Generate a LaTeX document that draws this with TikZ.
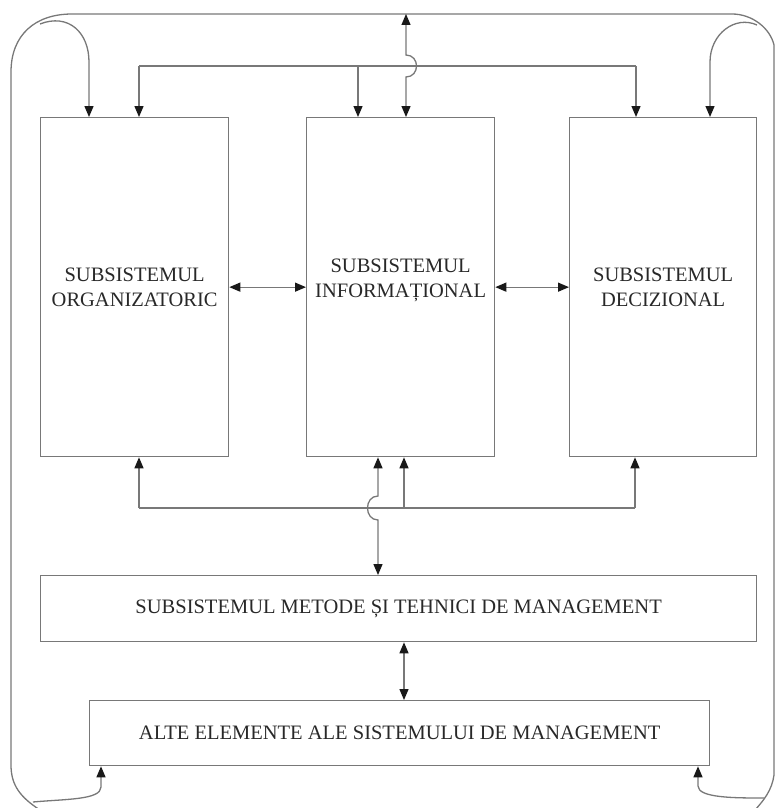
\documentclass[tikz,border=0pt]{standalone}
\usepackage{fontspec}
\setmainfont{Liberation Serif}
\usetikzlibrary{arrows.meta,calc}
\definecolor{ln}{RGB}{120,120,120}
\definecolor{tip}{RGB}{25,25,25}
\definecolor{txt}{RGB}{40,40,40}
\begin{document}
\begin{tikzpicture}[x=1pt,y=-1pt,
  line/.style={draw=ln, line width=1.3pt},
  arr/.style={line, -{Triangle[width=9pt,length=11pt,color=tip]}},
  arr2/.style={line, {Triangle[width=9pt,length=11pt,color=tip]}-{Triangle[width=9pt,length=11pt,color=tip]}},
  lbl/.style={align=center, inner sep=0pt, font=\fontsize{20.5}{25}\selectfont, text=txt},
  box/.style={lbl, draw=ln, line width=1.3pt, anchor=north west}]
\useasboundingbox (0,0) rectangle (774,808);
% boxes
\node[box, minimum width=188pt, minimum height=339pt] (o) at (40,117) {SUBSISTEMUL\\ORGANIZATORIC};
\node[box, minimum width=188pt, minimum height=339pt] (inf) at (306,117) {};
\node[lbl] (inft) at ($(inf.center)+(0,-7)$) {SUBSISTEMUL\\INFORMAȚIONAL};
\node[box, minimum width=187pt, minimum height=339pt] (dec) at (569,117) {SUBSISTEMUL\\DECIZIONAL};
\node[box, minimum width=716pt, minimum height=66pt] (met) at (40,575) {SUBSISTEMUL METODE ȘI TEHNICI DE MANAGEMENT};
\node[box, minimum width=620pt, minimum height=65pt] (alte) at (89,700) {ALTE ELEMENTE ALE SISTEMULUI DE MANAGEMENT};
% coordinates
\coordinate (tl) at (139,66);
\coordinate (tr) at (636,66);
\coordinate (tm) at (358,66);
\coordinate (top) at (406,14);
\coordinate (bl) at (139,508);
\coordinate (br) at (635,508);
\coordinate (bm) at (404,508);
% outer frame
\draw[line] (40,810) .. controls (20,797) and (11,785) .. (11,765) -- (11,72)
  .. controls (11,35) and (35,14) .. (72,14) -- (732,14)
  .. controls (752,14) and (770,28) .. (774,45) -- (774,775)
  .. controls (772,790) and (764,800) .. (755,810);
% top loops
\draw[arr] (40,24) .. controls (68,13) and (89,32) .. (89,62) -- (89,0 |- o.north);
\draw[arr] (757,25) .. controls (735,15) and (710,34) .. (710,62) -- (710,0 |- dec.north);
% top inner line
\draw[line] (tl) -- (tr);
\draw[arr] (tl) -- (tl |- o.north);
\draw[arr] (tr) -- (tr |- dec.north);
\draw[arr] (tm) -- (tm |- inf.north);
\draw[arr2] (406,0 |- inf.north) -- (406,77) .. controls (420,77) and (420,55) .. (406,55) -- (top);
% horizontal arrows
\draw[arr2] (o.east) -- (o.east -| inf.west);
\draw[arr2] (inf.east) -- (inf.east -| dec.west);
% bottom line
\draw[line] (bl) -- (br);
\draw[arr] (bl) -- (bl |- o.south);
\draw[arr] (br) -- (br |- dec.south);
\draw[arr] (bm) -- (bm |- inf.south);
\draw[arr2] (378,0 |- inf.south) -- (378,496) .. controls (364,496) and (364,520) .. (378,520) -- (378,0 |- met.north);
% met - alte
\draw[arr2] (404,0 |- met.south) -- (404,0 |- alte.north);
% bottom curved arrows
\draw[arr] (33,802) .. controls (65,799) and (101,800) .. (101,787) -- (101,0 |- alte.south);
\draw[arr] (764,798) .. controls (735,798) and (698,798) .. (698,786) -- (698,0 |- alte.south);
\end{tikzpicture}
\end{document}
